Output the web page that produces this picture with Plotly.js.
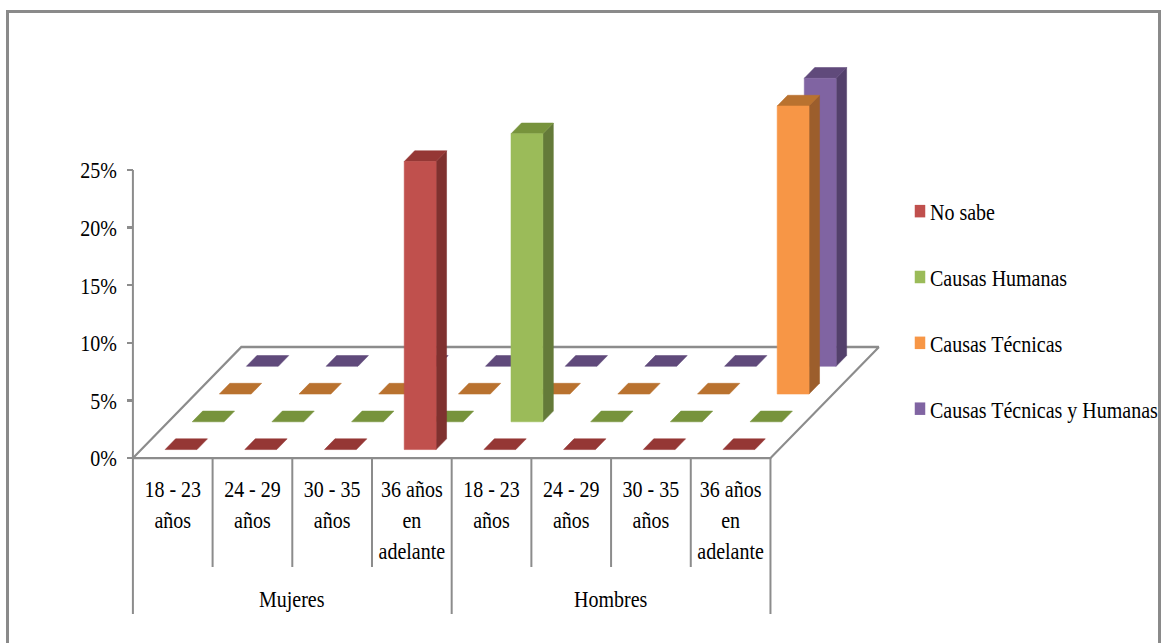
<!DOCTYPE html>
<html lang="es">
<head>
<meta charset="utf-8">
<script src="https://cdn.plot.ly/plotly-3.0.1.min.js"></script>
<style>
  html, body { margin: 0; padding: 0; background: #fff; overflow: hidden; }
  #frame {
    position: absolute; left: 6px; top: 10px; width: 1155px; height: 633px;
    box-sizing: border-box; border: 3px solid #8a8a8a; border-bottom: none;
  }
  /* The chart is laid out 540px tall and stretched to the full window height,
     which gives the tall, narrow lettering of the figure. */
  #chart {
    position: absolute; left: 0; top: 0; width: 1161px; height: 540px;
    transform-origin: 0 0; transform: scaleY(1.19074);
  }
</style>
</head>
<body>
<div id="frame"></div>
<div id="chart"></div>
<script>
// Age groups and gender groups along the front edge
const ageLabels = ["18 - 23<br>años", "24 - 29<br>años", "30 - 35<br>años", "36 años<br>en<br>adelante",
                   "18 - 23<br>años", "24 - 29<br>años", "30 - 35<br>años", "36 años<br>en<br>adelante"];
const groupLabels = ["Mujeres", "Hombres"];

// Percentage of answers per series, one value per age group
const noSabe        = [0, 0, 0, 25, 0, 0, 0, 0];
const causasHumanas = [0, 0, 0, 0, 25, 0, 0, 0];
const causasTecnicas = [0, 0, 0, 0, 0, 0, 0, 25];
const causasTecHum  = [0, 0, 0, 0, 0, 0, 0, 25];

const seriesNames = ["No sabe", "Causas Humanas", "Causas Técnicas", "Causas Técnicas y Humanas"];
const seriesValues = [noSabe, causasHumanas, causasTecnicas, causasTecHum];
const frontColors = ["#C0504D", "#9BBB59", "#F79646", "#8064A2"];
const topColors   = ["#953735", "#77933C", "#B9722F", "#604A7B"];
const sideColors  = ["#7F312F", "#647A39", "#9C5E2C", "#53406B"];
const percentTicks = [0, 5, 10, 15, 20, 25];

// Plot ranges run past the origin so the guide lines below and left of it stay visible;
// both axes are pinned to the origin with free positions.
const xRange = [-0.3, 9.5], yRange = [-14.5, 38];

// Oblique projection of the 3D chart onto the plot's own axes:
// one step back in depth moves right by depthX categories and up by depthY percent.
const depthX = 0.34, depthY = 2.409;
const barWidth = 0.4, barDepth = 0.386;
const project = (cat, depth, value) => [cat + depth * depthX, value + depth * depthY];

function polygons(list) {
  const x = [], y = [];
  list.forEach(poly => {
    poly.forEach(p => { x.push(p[0]); y.push(p[1]); });
    x.push(poly[0][0], null); y.push(poly[0][1], null);
  });
  return { x, y };
}

function face(list, color) {
  const pts = polygons(list);
  return { x: pts.x, y: pts.y, mode: "lines", fill: "toself", fillcolor: color,
           line: { color: color, width: 0.5 }, showlegend: false, hoverinfo: "skip" };
}

function guide(x, y) {
  return { x: x, y: y, mode: "lines",
           line: { color: "#8c8c8c", width: 2 }, showlegend: false, hoverinfo: "skip" };
}

const traces = [];

// Floor outline
const floor = [[0, 0], [8, 0], [8, 4], [0, 4], [0, 0]].map(p => project(p[0], p[1], 0));
traces.push(guide(floor.map(p => p[0]), floor.map(p => p[1])));

// Vertical axis line
traces.push(guide([0, 0], [0, percentTicks[percentTicks.length - 1]]));

// Divider lines under the front edge: short between ages, long between groups
const shortDrop = -9.46, longDrop = -13.54;
const divX = [], divY = [];
for (let c = 0; c <= ageLabels.length; c++) {
  divX.push(c, c, null);
  divY.push(0, c % 4 === 0 ? longDrop : shortDrop, null);
}
traces.push(guide(divX, divY));

// Bars, rear series first so nearer bars cover them
for (let s = seriesValues.length - 1; s >= 0; s--) {
  const fronts = [], sides = [], tops = [];
  seriesValues[s].forEach((v, c) => {
    const xl = c + 0.5 - barWidth / 2, xr = xl + barWidth;
    const d0 = s + 0.5 - barDepth / 2, d1 = d0 + barDepth;
    tops.push([project(xl, d0, v), project(xr, d0, v), project(xr, d1, v), project(xl, d1, v)]);
    if (v > 0) {
      fronts.push([project(xl, d0, 0), project(xr, d0, 0), project(xr, d0, v), project(xl, d0, v)]);
      sides.push([project(xr, d0, 0), project(xr, d1, 0), project(xr, d1, v), project(xr, d0, v)]);
    }
  });
  traces.push(face(sides, sideColors[s]), face(tops, topColors[s]), face(fronts, frontColors[s]));
}

// Legend entries
seriesNames.forEach((name, s) => {
  traces.push({ x: [null], y: [null], name: name, mode: "markers", legendgroup: name,
                marker: { symbol: "square", size: 10.5, color: frontColors[s] }, hoverinfo: "skip" });
});

const serif = "'Liberation Serif', 'Times New Roman', serif";
const fraction = (range, v) => (v - range[0]) / (range[1] - range[0]);
const layout = {
  width: 1161, height: 540,
  margin: { l: 108.575, r: 270.875, t: 17, b: 15.1, pad: 0, autoexpand: false },
  paper_bgcolor: "rgba(0,0,0,0)", plot_bgcolor: "rgba(0,0,0,0)",
  font: { family: serif, size: 20, color: "#000" },
  showlegend: true,
  legend: { x: 1.0, y: 0.7228, xanchor: "left", yanchor: "top", tracegroupgap: 26.3,
            itemclick: false, itemdoubleclick: false, font: { family: serif, size: 20, color: "#000" } },
  xaxis: { range: xRange, anchor: "free", position: fraction(yRange, 0),
           showgrid: false, zeroline: false, showline: false, ticks: "",
           tickmode: "array", tickvals: ageLabels.map((_, i) => i + 0.5), ticktext: ageLabels,
           tickangle: 0, ticklabelstandoff: 12, fixedrange: true },
  yaxis: { range: yRange, anchor: "free", position: fraction(xRange, 0),
           showgrid: false, zeroline: false, showline: false,
           ticks: "outside", ticklen: 6, tickwidth: 2, tickcolor: "#8c8c8c",
           tickmode: "array", tickvals: percentTicks, ticktext: percentTicks.map(v => v + "%"),
           ticklabelstandoff: 6, fixedrange: true },
  annotations: groupLabels.map((t, i) => ({
    text: t, xref: "x", yref: "y", x: 2 + i * 4, y: -12.24,
    xanchor: "center", yanchor: "middle", showarrow: false,
    font: { family: serif, size: 20, color: "#000" }
  }))
};

Plotly.newPlot("chart", traces, layout, { displayModeBar: false, staticPlot: true }).then(() => {
  // Bring the legend squares up close to their labels
  document.querySelectorAll("#chart .legend .layers").forEach(g => {
    g.setAttribute("transform", "translate(10,0)");
  });
});
</script>
</body>
</html>
